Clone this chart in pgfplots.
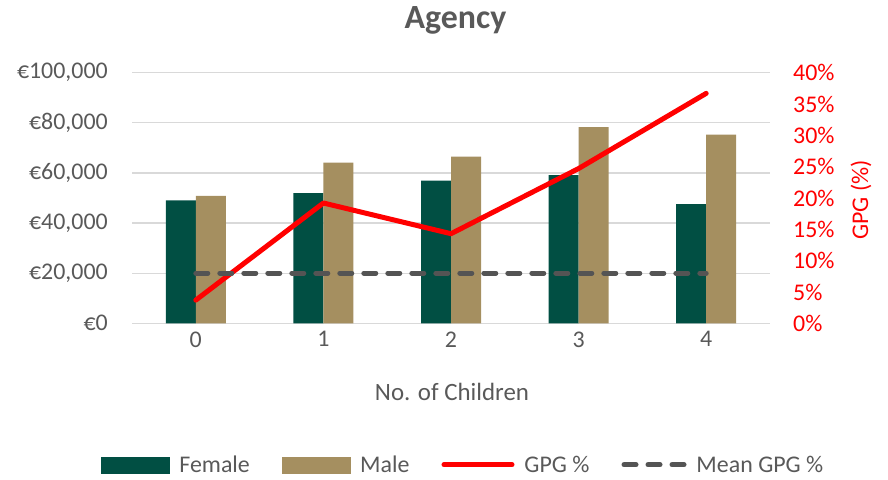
\documentclass[border=0pt]{standalone}
\usepackage{pgfplots}
\pgfplotsset{compat=1.18}
\usepackage{fontspec}
\setmainfont{Carlito}
\definecolor{fem}{RGB}{1,79,67}
\definecolor{mal}{RGB}{165,143,96}
\definecolor{txt}{RGB}{89,89,89}
\definecolor{grd}{RGB}{217,217,217}
\definecolor{meanc}{RGB}{84,84,84}
\begin{document}
\begin{tikzpicture}[x=1bp,y=1bp]
\useasboundingbox (0,0) rectangle (888,480);
\begin{axis}[
  at={(132bp,156.7bp)}, anchor=south west,
  scale only axis, width=638bp, height=250.6bp,
  xmin=-0.5, xmax=4.5, ymin=0, ymax=100000,
  ybar=0pt, bar width=30bp,
  axis line style={draw=none},
  major tick length=0pt,
  ytick={0,20000,40000,60000,80000,100000},
  yticklabels={€0,{€20,000},{€40,000},{€60,000},{€80,000},{€100,000}},
  xtick={0,1,2,3,4}, xticklabels={0,1,2,3,4},
  ymajorgrids, grid style={grd, line width=1.2bp},
  tick label style={font=\fontsize{24}{28}\selectfont, text=txt, inner sep=0pt},
  yticklabel style={anchor=east, xshift=-24bp},
  xticklabel style={anchor=north, yshift=-8bp},
  scaled y ticks=false,
]
\addplot[fill=fem, draw=none] coordinates {(0,49000) (1,51900) (2,56900) (3,59100) (4,47600)};
\addplot[fill=mal, draw=none] coordinates {(0,50800) (1,64100) (2,66500) (3,78300) (4,75300)};
\end{axis}
\begin{axis}[
  at={(132bp,156.7bp)}, anchor=south west,
  scale only axis, width=638bp, height=250.6bp,
  xmin=-0.5, xmax=4.5, ymin=0, ymax=40,
  axis x line=none, axis y line*=right,
  axis line style={draw=none},
  major tick length=0pt,
  ytick={0,5,10,15,20,25,30,35,40},
  yticklabels={0\%,5\%,10\%,15\%,20\%,25\%,30\%,35\%,40\%},
  tick label style={font=\fontsize{24}{28}\selectfont, text=red, inner sep=0pt},
  yticklabel style={anchor=west, xshift=23bp},
  legend style={draw=none, fill=none, at={(axis description cs:0.519,-0.565)}, anchor=center,
    legend columns=4, font=\fontsize{24}{28}\selectfont, text=txt,
    /tikz/every even column/.append style={column sep=30bp},
    /tikz/every odd column/.append style={column sep=8bp}},
]
\addlegendimage{legend image code/.code={\fill[fem] (0bp,-8bp) rectangle (68bp,8bp);}}
\addlegendentry{Female}
\addlegendimage{legend image code/.code={\fill[mal] (0bp,-8bp) rectangle (68bp,8bp);}}
\addlegendentry{Male}
\addplot[red, line width=5bp, line join=round, line cap=round,
  legend image code/.code={\draw[red, line width=5bp, line cap=round] (0bp,0bp) -- (68bp,0bp);}]
  coordinates {(0,3.7) (1,19.2) (2,14.3) (3,24.7) (4,36.7)};
\addlegendentry{GPG \%}
\addplot[meanc, line width=5bp, line cap=round, dash pattern=on 12bp off 12bp,
  legend image code/.code={\draw[meanc, line width=5bp, line cap=round, dash pattern=on 12bp off 12bp] (3bp,0bp) -- (63bp,0bp);}]
  coordinates {(0,8) (4,8)};
\addlegendentry{Mean GPG \%}
\end{axis}
\node[font=\bfseries\fontsize{34}{38}\selectfont, text=txt] at (455.5,460) {Agency};
\node[font=\fontsize{25}{30}\selectfont, text=txt] at (452,88) {No. of Children};
\node[font=\fontsize{24}{28}\selectfont, text=red, rotate=90] at (861,280) {GPG (\%)};
\end{tikzpicture}
\end{document}
